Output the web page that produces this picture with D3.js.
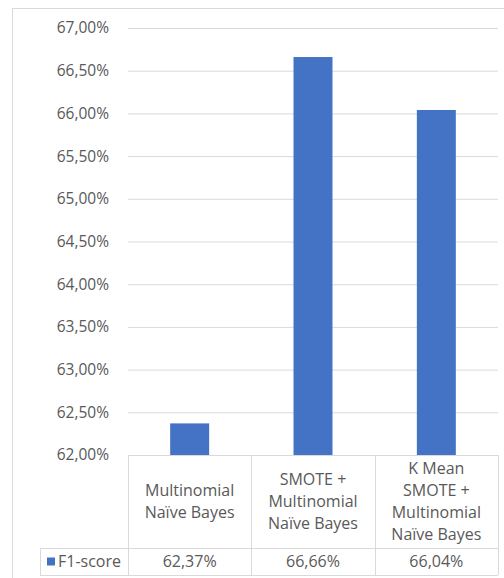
<!DOCTYPE html>
<html>
<head>
<meta charset="utf-8">
<script src="https://cdn.jsdelivr.net/npm/d3@7"></script>
<style>
  body { margin: 0; background: #fff; }
  svg { display: block; font-family: "Open Sans", sans-serif; }
</style>
</head>
<body>
<div id="chart"></div>
<script>
// data
const categories = [
    ["Multinomial", "Naïve Bayes"],
    ["SMOTE +", "Multinomial", "Naïve Bayes"],
    ["K Mean", "SMOTE +", "Multinomial", "Naïve Bayes"]
];
const seriesName = "F1-score";
const f1Values = [62.37, 66.66, 66.04];
const tickValues = [62, 62.5, 63, 63.5, 64, 64.5, 65, 65.5, 66, 66.5, 67];

const width = 504, height = 578;
const plot = {left: 128, right: 498, top: 28, bottom: 455};
const tableBottom = 575, headerBottom = 548, legendLeft = 40;
const grey = "#d9d9d9", textColor = "#595959", barColor = "#4472C4";
const fmt = v => v.toFixed(2).replace(".", ",") + "%";

const svg = d3.select("#chart").append("svg")
    .attr("width", width)
    .attr("height", height);

// chart area border
svg.append("rect")
    .attr("x", 12.5).attr("y", 8.5)
    .attr("width", 520).attr("height", 600)
    .attr("fill", "none").attr("stroke", grey);

const idx = categories.map((d, i) => i);

const x = d3.scaleBand()
    .domain(idx)
    .range([plot.left, plot.right])
    .paddingInner(0.684)
    .paddingOuter(0.342);

const cell = d3.scaleBand()
    .domain(idx)
    .range([plot.left, plot.right]);

const y = d3.scaleLinear()
    .domain([62, 67])
    .range([plot.bottom, plot.top]);

// grid lines + tick labels
const yAxis = svg.append("g")
    .attr("transform", `translate(${plot.left},0)`)
    .call(d3.axisLeft(y).tickValues(tickValues).tickSize(-(plot.right - plot.left)).tickPadding(19).tickFormat(fmt));
yAxis.select(".domain").remove();
yAxis.selectAll(".tick line").attr("stroke", grey);
yAxis.selectAll(".tick text")
    .attr("fill", textColor)
    .style("font-size", "15.5px")
    .style("font-family", "Open Sans, sans-serif");

// bars
svg.append("g")
    .selectAll("rect")
    .data(f1Values)
    .join("rect")
    .attr("x", (d, i) => x(i))
    .attr("y", d => y(d))
    .attr("width", x.bandwidth())
    .attr("height", d => y(62) - y(d))
    .attr("fill", barColor);

// data table
const table = svg.append("g").attr("stroke", grey).attr("fill", "none");
// horizontal lines
table.append("line").attr("x1", plot.left).attr("x2", plot.right).attr("y1", plot.bottom + 0.5).attr("y2", plot.bottom + 0.5);
table.append("line").attr("x1", legendLeft).attr("x2", plot.right).attr("y1", headerBottom + 0.5).attr("y2", headerBottom + 0.5);
table.append("line").attr("x1", legendLeft).attr("x2", plot.right).attr("y1", tableBottom + 0.5).attr("y2", tableBottom + 0.5);
// vertical lines
const vx = idx.map(i => cell(i)).concat([plot.right]);
table.selectAll("line.v")
    .data(vx)
    .join("line")
    .attr("class", "v")
    .attr("x1", d => Math.round(d) + 0.5).attr("x2", d => Math.round(d) + 0.5)
    .attr("y1", plot.bottom).attr("y2", tableBottom);
table.append("line")
    .attr("x1", legendLeft + 0.5).attr("x2", legendLeft + 0.5)
    .attr("y1", headerBottom).attr("y2", tableBottom);

// category labels
const lineH = 22;
const fs = "16px";
const headerMid = (plot.bottom + headerBottom) / 2;
svg.append("g")
    .selectAll("text")
    .data(categories)
    .join("text")
    .attr("text-anchor", "middle")
    .attr("fill", textColor)
    .style("font-size", fs)
    .each(function (lines, i) {
        const t = d3.select(this);
        const y0 = headerMid - (lines.length - 1) * lineH / 2;
        lines.forEach((s, k) => {
            t.append("tspan")
                .attr("x", cell(i) + cell.bandwidth() / 2)
                .attr("y", y0 + k * lineH)
                .attr("dy", "0.35em")
                .text(s);
        });
    });

// values row
const rowMid = (headerBottom + tableBottom) / 2;
svg.append("g")
    .selectAll("text")
    .data(f1Values)
    .join("text")
    .attr("x", (d, i) => cell(i) + cell.bandwidth() / 2)
    .attr("y", rowMid)
    .attr("dy", "0.35em")
    .attr("text-anchor", "middle")
    .attr("fill", textColor)
    .style("font-size", fs)
    .text(fmt);

// legend key
svg.append("rect")
    .attr("x", 47).attr("y", rowMid - 4)
    .attr("width", 8).attr("height", 8)
    .attr("fill", barColor);
svg.append("text")
    .attr("x", 58).attr("y", rowMid)
    .attr("dy", "0.35em")
    .attr("fill", textColor)
    .style("font-size", fs)
    .text(seriesName);
</script>
</body>
</html>
